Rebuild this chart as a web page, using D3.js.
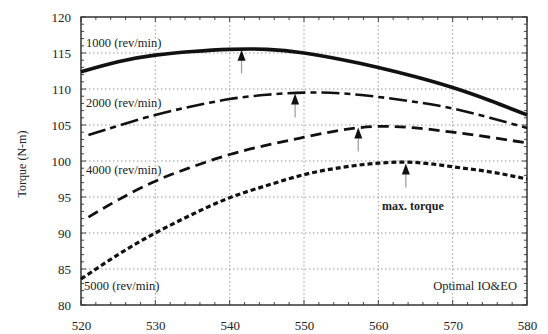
<!DOCTYPE html>
<html><head><meta charset="utf-8">
<script src="https://cdn.jsdelivr.net/npm/d3@7"></script>
<style>body{margin:0;background:#fff}svg{display:block}svg text{font-family:"Liberation Serif","Times New Roman",serif !important;fill:#222}</style>
</head><body><svg id="c" width="548" height="334"></svg>
<script>
const xTicks=[520,530,540,550,560,570,580];
const yTicks=[80,85,90,95,100,105,110,115,120];
const rpm1000=[[520,112.4],[525,113.8],[530,114.7],[535,115.2],[540,115.5],[545,115.5],[550,115.0],[555,114.1],[560,113.0],[565,111.7],[570,110.2],[575,108.4],[580,106.4]];
const rpm2000=[[521,103.6],[525,104.9],[530,106.4],[535,107.6],[540,108.6],[545,109.2],[550,109.5],[555,109.4],[560,108.9],[565,108.2],[570,107.3],[575,106.0],[580,104.6]];
const rpm4000=[[521,92.2],[525,94.6],[530,97.2],[535,99.2],[540,100.9],[545,102.2],[550,103.3],[555,104.3],[560,104.8],[565,104.6],[570,104.0],[575,103.3],[580,102.5]];
const rpm5000=[[520,83.6],[525,87.0],[530,90.0],[535,92.6],[540,94.9],[545,96.6],[550,98.1],[555,99.1],[560,99.7],[565,99.8],[570,99.2],[575,98.5],[580,97.5]];
const arrowX=[541.6,548.8,557.3,563.7];
const arrowY=[115.6,109.5,104.8,99.8];
const curveLabels=["1000 (rev/min)","2000 (rev/min)","4000 (rev/min)","5000 (rev/min)"];

const svg=d3.select("#c");
const L=81,R=527,T=17,B=305;
const x=d3.scaleLinear().domain([520,580]).range([L,R]);
const y=d3.scaleLinear().domain([80,120]).range([B,T]);

// grid
const g=svg.append("g");
g.selectAll(".gx").data(xTicks.slice(1,-1)).join("line").attr("x1",d=>x(d)).attr("x2",d=>x(d)).attr("y1",T).attr("y2",B)
 .attr("stroke","#999").attr("stroke-width",1).attr("stroke-dasharray","1.5,2.5");
g.selectAll(".gy").data(yTicks.slice(1,-1)).join("line").attr("y1",d=>y(d)).attr("y2",d=>y(d)).attr("x1",L).attr("x2",R)
 .attr("stroke","#999").attr("stroke-width",1).attr("stroke-dasharray","1.5,2.5");

// minor ticks inward
const xm=d3.range(520,581,2), ym=d3.range(80,121,1);
g.selectAll(".mxb").data(xm).join("line").attr("x1",d=>x(d)).attr("x2",d=>x(d)).attr("y1",B).attr("y2",d=>B-(d%10===0?5:3)).attr("stroke","#444");
g.selectAll(".mxt").data(xm).join("line").attr("x1",d=>x(d)).attr("x2",d=>x(d)).attr("y1",T).attr("y2",d=>T+(d%10===0?5:3)).attr("stroke","#444");
g.selectAll(".myl").data(ym).join("line").attr("y1",d=>y(d)).attr("y2",d=>y(d)).attr("x1",L).attr("x2",d=>L+(d%5===0?5:3)).attr("stroke","#444");
g.selectAll(".myr").data(ym).join("line").attr("y1",d=>y(d)).attr("y2",d=>y(d)).attr("x1",R).attr("x2",d=>R-(d%5===0?5:3)).attr("stroke","#444");

svg.append("rect").attr("x",L).attr("y",T).attr("width",R-L).attr("height",B-T).attr("fill","none").attr("stroke","#333").attr("stroke-width",1.5);

// axes labels
const xa=svg.append("g").attr("transform",`translate(0,${B})`).call(d3.axisBottom(x).tickValues(xTicks).tickSize(0).tickPadding(16).tickFormat(d3.format("d")));
xa.attr("font-family","Liberation Serif").attr("font-size",13);
xa.select(".domain").remove();
xa.selectAll("text").attr("fill","#222");
const ya=svg.append("g").attr("transform",`translate(${L},0)`).call(d3.axisLeft(y).tickValues(yTicks).tickSize(0).tickPadding(10).tickFormat(d3.format("d")));
ya.attr("font-family","Liberation Serif").attr("font-size",13);
ya.select(".domain").remove();
ya.selectAll("text").attr("fill","#222");

svg.append("text").attr("transform","translate(26,164) rotate(-90)").attr("text-anchor","middle").attr("font-size",12).text("Torque (N-m)");

// curves
const line=d3.line().x(d=>x(d[0])).y(d=>y(d[1])).curve(d3.curveNatural);
const series=[
 {d:rpm1000,w:3.6,dash:null},
 {d:rpm2000,w:2.6,dash:"18,5,6,5"},
 {d:rpm4000,w:2.8,dash:"11,6"},
 {d:rpm5000,w:3.2,dash:"5,3"}];
series.forEach(s=>{
 svg.append("path").datum(s.d).attr("d",line).attr("fill","none").attr("stroke","#111").attr("stroke-width",s.w).attr("stroke-dasharray",s.dash);
});

// arrows
arrowX.forEach((ax,i)=>{
 const px=x(ax), py=y(arrowY[i])+1;
 svg.append("line").attr("x1",px).attr("x2",px).attr("y1",py+9).attr("y2",py+24).attr("stroke","#999").attr("stroke-width",1.2);
 svg.append("path").attr("d",`M${px},${py} L${px-4},${py+11} L${px+4},${py+11} Z`).attr("fill","#111");
});

// labels
const lab=[[86,47],[86,107],[86,174],[84,290]];
curveLabels.forEach((t,i)=>svg.append("text").attr("x",lab[i][0]).attr("y",lab[i][1]).attr("font-size",12.5).text(t));
svg.append("text").attr("x",382).attr("y",210).attr("font-size",12).attr("font-weight","bold").text("max. torque");
svg.append("text").attr("x",517).attr("y",290).attr("text-anchor","end").attr("font-size",12.5).text("Optimal IO&EO");
</script></body></html>
